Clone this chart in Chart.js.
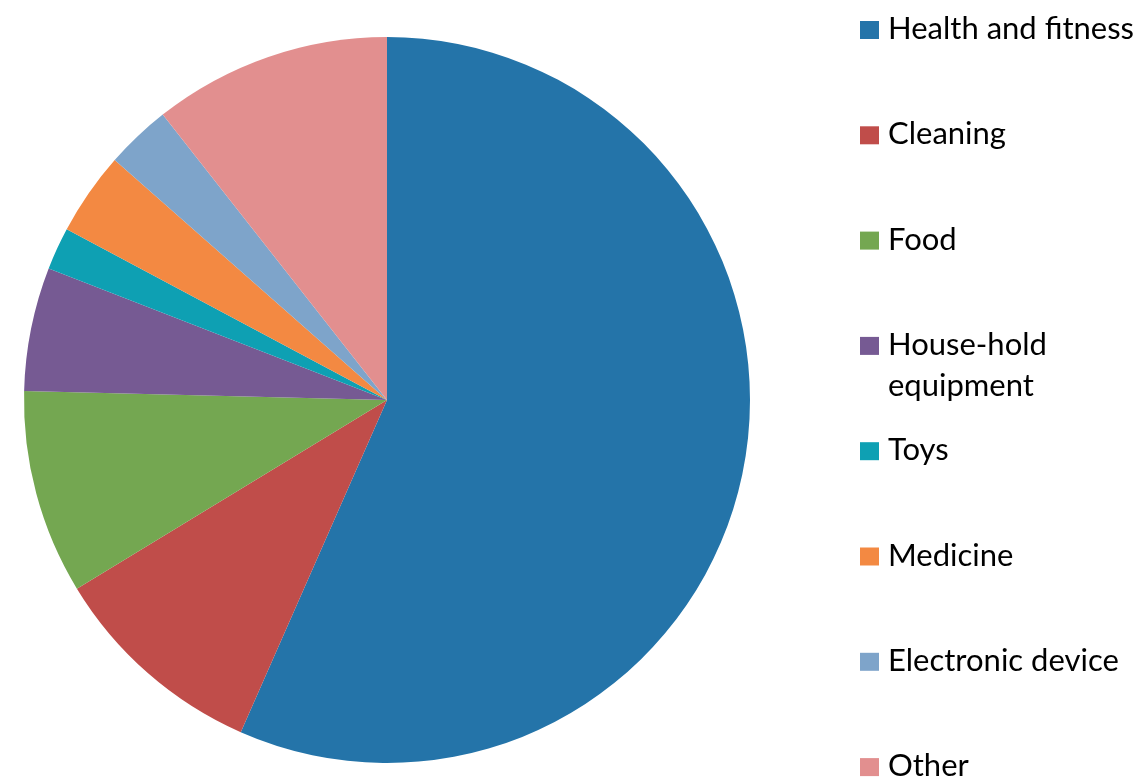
<!DOCTYPE html>
<html>
<head>
<meta charset="utf-8">
<script src="https://cdn.jsdelivr.net/npm/chart.js@4.4.0/dist/chart.umd.min.js"></script>
<style>
  html, body { margin: 0; padding: 0; background: #fff; }
  #wrap { width: 1140px; height: 779px; position: relative; }
</style>
</head>
<body>
<div id="wrap"><canvas id="pie"></canvas></div>
<script>
const labels = ['Health and fitness', 'Cleaning', 'Food', ['House-hold', 'equipment'], 'Toys', 'Medicine', 'Electronic device', 'Other'];
const shares = [56.6, 9.7, 9.1, 5.5, 1.9, 3.7, 2.9, 10.6];
const colors = ['#2474A9', '#C04D4A', '#74A751', '#765A93', '#0EA0B3', '#F38942', '#7EA4CA', '#E28F8F'];

// legende rechts, selbst gezeichnet
const sideLegend = {
  id: 'sideLegend',
  afterDraw(chart) {
    const ctx = chart.ctx;
    ctx.save();
    ctx.font = '31px Lato';
    ctx.textBaseline = 'alphabetic';
    labels.forEach((lab, i) => {
      const base = 39 + i * 105.3;
      ctx.fillStyle = colors[i];
      ctx.fillRect(860, base - 18, 19, 18);
      ctx.fillStyle = '#000';
      const lines = Array.isArray(lab) ? lab : [lab];
      lines.forEach((ln, j) => ctx.fillText(ln, 888, base + j * 41));
    });
    ctx.restore();
  }
};

new Chart(document.getElementById('pie'), {
  type: 'pie',
  data: {
    labels: labels,
    datasets: [{ data: shares, backgroundColor: colors, borderWidth: 0 }]
  },
  options: {
    responsive: true,
    maintainAspectRatio: false,
    animation: false,
    layout: { padding: { left: 24, top: 37, right: 390, bottom: 16 } },
    plugins: { legend: { display: false }, tooltip: { enabled: false } }
  },
  plugins: [sideLegend]
});
</script>
</body>
</html>
